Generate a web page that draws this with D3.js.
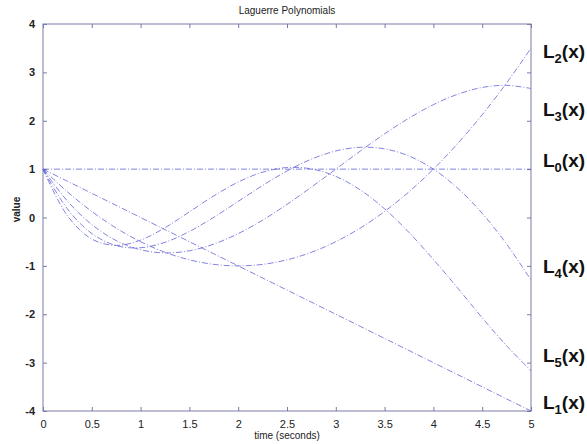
<!DOCTYPE html>
<html>
<head>
<meta charset="utf-8">
<script src="https://cdn.jsdelivr.net/npm/d3@7"></script>
<style>
  html, body { margin: 0; padding: 0; background: #fff; }
  svg { display: block; }
  text { font-family: "Liberation Sans", Arial, sans-serif; }
</style>
</head>
<body>
<svg id="chart" width="587" height="444"></svg>
<script>
// Sample points along the time axis (seconds)
const xs = [0, 0.25, 0.5, 0.75, 1, 1.25, 1.5, 1.75, 2, 2.25, 2.5, 2.75, 3, 3.25, 3.5, 3.75, 4, 4.25, 4.5, 4.75, 5];

// Laguerre polynomial values at those sample points
const L0 = [1, 1, 1, 1, 1, 1, 1, 1, 1, 1, 1, 1, 1, 1, 1, 1, 1, 1, 1, 1, 1];
const L1 = [1, 0.75, 0.5, 0.25, 0, -0.25, -0.5, -0.75, -1, -1.25, -1.5, -1.75, -2, -2.25, -2.5, -2.75, -3, -3.25, -3.5, -3.75, -4];
const L2 = [1, 0.531, 0.125, -0.219, -0.5, -0.719, -0.875, -0.969, -1, -0.969, -0.875, -0.719, -0.5, -0.219, 0.125, 0.531, 1, 1.531, 2.125, 2.781, 3.5];
const L3 = [1, 0.341, -0.146, -0.477, -0.667, -0.732, -0.688, -0.549, -0.333, -0.055, 0.271, 0.628, 1, 1.372, 1.729, 2.055, 2.333, 2.549, 2.688, 2.732, 2.667];
const L4 = [1, 0.177, -0.331, -0.581, -0.625, -0.513, -0.289, 0.005, 0.333, 0.662, 0.961, 1.206, 1.375, 1.451, 1.419, 1.271, 1, 0.604, 0.086, -0.549, -1.292];
const L5 = [1, 0.037, -0.446, -0.577, -0.467, -0.210, 0.116, 0.447, 0.733, 0.937, 1.033, 1.005, 0.85, 0.571, 0.178, -0.309, -0.867, -1.461, -2.073, -2.652, -3.167];

const seriesList = [L0, L1, L2, L3, L4, L5];

// Right-hand curve labels: subscript index and the y value the label sits at
const labelIdx = ["2", "3", "0", "4", "5", "1"];
const labelVal = [3.3, 2.1, 1.05, -1.15, -2.98, -3.95];

const xTicks = [0, 0.5, 1, 1.5, 2, 2.5, 3, 3.5, 4, 4.5, 5];
const xTickLabels = ["0", "0.5", "1", "1.5", "2", "2.5", "3", "3.5", "4", "4.5", "5"];
const yTicks = [-4, -3, -2, -1, 0, 1, 2, 3, 4];
const yTickLabels = ["-4", "-3", "-2", "-1", "0", "1", "2", "3", "4"];

const svg = d3.select("#chart");
const margin = { left: 43, top: 24, right: 56, bottom: 33 };
const W = 587, H = 444;
const x = d3.scaleLinear().domain([0, 5]).range([margin.left, W - margin.right]);
const y = d3.scaleLinear().domain([-4, 4]).range([H - margin.bottom, margin.top]);

const axisColor = "#7a7aa8";
const tickLen = 4;

// Title
svg.append("text")
  .attr("x", (x(0) + x(5)) / 2).attr("y", 14)
  .attr("text-anchor", "middle")
  .attr("font-size", 10).attr("fill", "#222")
  .text("Laguerre Polynomials");

// Frame
svg.append("rect")
  .attr("x", x(0)).attr("y", y(4))
  .attr("width", x(5) - x(0)).attr("height", y(-4) - y(4))
  .attr("fill", "none").attr("stroke", axisColor).attr("stroke-width", 1);

// Bottom axis (inward ticks) and mirrored top ticks
const xAxis = d3.axisBottom(x).tickValues(xTicks)
  .tickFormat((d, i) => xTickLabels[i]).tickSizeInner(-tickLen).tickSizeOuter(0).tickPadding(9);
const gx = svg.append("g").attr("transform", `translate(0,${y(-4)})`).call(xAxis);
gx.select(".domain").remove();
gx.selectAll("line").attr("stroke", axisColor);
gx.selectAll("text").attr("font-size", 11).attr("fill", "#222");

const gxt = svg.append("g").attr("transform", `translate(0,${y(4)})`)
  .call(d3.axisTop(x).tickValues(xTicks).tickFormat("").tickSizeInner(-tickLen).tickSizeOuter(0));
gxt.select(".domain").remove();
gxt.selectAll("line").attr("stroke", axisColor);

// Left axis and mirrored right ticks
const yAxis = d3.axisLeft(y).tickValues(yTicks).tickFormat((d, i) => yTickLabels[i])
  .tickSizeInner(-tickLen).tickSizeOuter(0).tickPadding(8);
const gy = svg.append("g").attr("transform", `translate(${x(0)},0)`).call(yAxis);
gy.select(".domain").remove();
gy.selectAll("line").attr("stroke", axisColor);
gy.selectAll("text").attr("font-size", 11).attr("font-weight", "bold").attr("fill", "#222");

const gyr = svg.append("g").attr("transform", `translate(${x(5)},0)`)
  .call(d3.axisRight(y).tickValues(yTicks).tickFormat("").tickSizeInner(-tickLen).tickSizeOuter(0));
gyr.select(".domain").remove();
gyr.selectAll("line").attr("stroke", axisColor);

// Axis titles
svg.append("text")
  .attr("x", (x(0) + x(5)) / 2).attr("y", 439)
  .attr("text-anchor", "middle")
  .attr("font-size", 10).attr("fill", "#222")
  .text("time (seconds)");

svg.append("text")
  .attr("transform", `translate(20,${y(0) - 8}) rotate(-90)`)
  .attr("text-anchor", "middle")
  .attr("font-size", 10).attr("font-weight", "bold").attr("fill", "#222")
  .text("value");

// Polynomial curves
const line = d3.line()
  .x((d, i) => x(xs[i]))
  .y(d => y(d))
  .curve(d3.curveCatmullRom.alpha(0.5));

svg.append("g").selectAll("path")
  .data(seriesList)
  .join("path")
  .attr("d", line)
  .attr("fill", "none")
  .attr("stroke", "#5a5ad2")
  .attr("stroke-opacity", 0.75)
  .attr("stroke-width", 1)
  .attr("stroke-dasharray", "6,2,1,2");

// Curve labels on the right
const lab = svg.append("g").selectAll("text")
  .data(labelIdx)
  .join("text")
  .attr("x", 543)
  .attr("y", (d, i) => y(labelVal[i]))
  .attr("font-size", 19).attr("font-weight", "bold").attr("fill", "#111");
lab.append("tspan").text("L");
lab.append("tspan").attr("font-size", 13).attr("dy", 5).text(d => d);
lab.append("tspan").attr("dy", -5).text("(x)");
</script>
</body>
</html>
